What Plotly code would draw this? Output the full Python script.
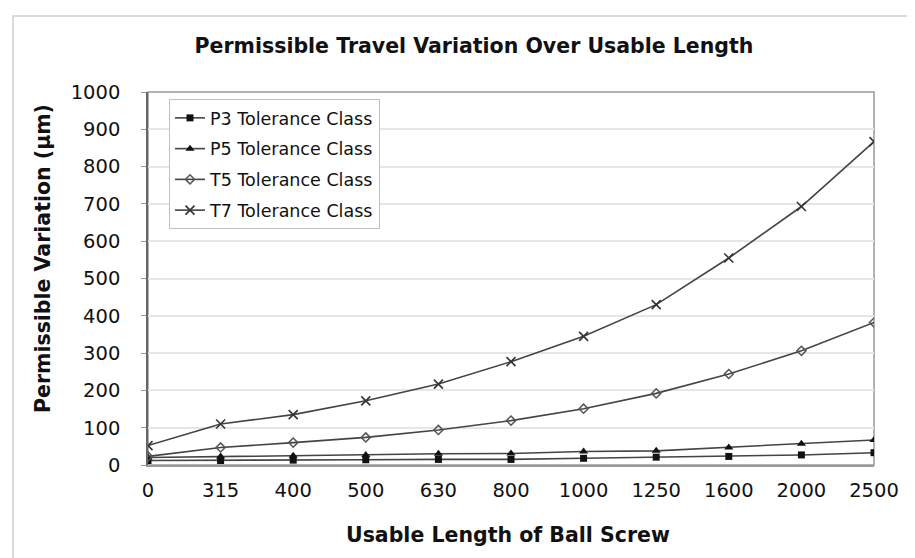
import plotly.graph_objects as go

lengths = ["0", "315", "400", "500", "630", "800", "1000", "1250", "1600", "2000", "2500"]
p3_values = [12, 12, 13, 14, 15, 15, 18, 21, 23, 27, 33]
p5_values = [20, 23, 25, 27, 30, 31, 36, 38, 47, 57, 67]
t5_values = [23, 47, 60, 74, 94, 119, 151, 192, 244, 306, 382]
t7_values = [52, 110, 135, 172, 217, 277, 345, 430, 555, 693, 867]
y_ticks = [0, 100, 200, 300, 400, 500, 600, 700, 800, 900, 1000]

series = [
    ("P3 Tolerance Class", p3_values, dict(symbol="square", size=7, color="#111111")),
    ("P5 Tolerance Class", p5_values, dict(symbol="triangle-up", size=8, color="#111111")),
    ("T5 Tolerance Class", t5_values, dict(symbol="diamond-open", size=7, color="#555555", line=dict(width=1.5, color="#555555"))),
    ("T7 Tolerance Class", t7_values, dict(symbol="x-thin-open", size=9, color="#333333", line=dict(width=1.6, color="#333333"))),
]

fig = go.Figure()
for i, (name, vals, marker) in enumerate(series):
    fig.add_trace(go.Scatter(
        x=lengths, y=vals, name=name, mode="lines+markers",
        line=dict(color="#444444", width=1.6),
        marker=marker, legendgroup=f"g{i}",
    ))

wide = "DejaVu Sans, Verdana, sans-serif"
W, H = 915, 558
L, R, T, B = 140, 49, 84, 101
pw, ph = W - L - R, H - T - B

fig.update_layout(
    width=W, height=H,
    margin=dict(l=L, r=R, t=T, b=B, pad=0),
    paper_bgcolor="white", plot_bgcolor="white",
    font=dict(family=wide, size=19, color="#111111"),
    title=dict(text="<b>Permissible Travel Variation Over Usable Length</b>",
               x=466 / W, xanchor="center", y=1 - 38 / H, yanchor="middle",
               font=dict(size=20.5, family=wide, color="#111111")),
    xaxis=dict(
        type="category", categoryorder="array", categoryarray=lengths,
        range=[0, len(lengths) - 1],
        showgrid=False, showline=True, linecolor="#999999", linewidth=1.5,
        ticks="", tickfont=dict(size=19.5, family=wide), zeroline=False,
        ticklabelstandoff=7,
    ),
    yaxis=dict(
        range=[0, 1000], tickvals=y_ticks, showgrid=True, gridcolor="#e6e6e6", gridwidth=1.5,
        showline=True, linecolor="#666666", linewidth=1.5,
        ticks="outside", ticklen=5, tickcolor="#999999",
        tickfont=dict(size=19.5, family=wide), zeroline=False,
        ticklabelstandoff=17,
    ),
    legend=dict(
        x=(161 - L) / pw, y=1 - (91 - T) / ph, xanchor="left", yanchor="top",
        bgcolor="white", bordercolor="#c0c0c0", borderwidth=1,
        font=dict(size=17.5, family=wide), tracegroupgap=5,
        itemwidth=30,
    ),
    showlegend=True,
)

# axis titles as annotations placed in pixel terms
fig.add_annotation(text="<b>Usable Length of Ball Screw</b>", xref="paper", yref="paper",
                   x=(500 - L) / pw, y=(H - B - 527) / ph, xanchor="center", yanchor="middle",
                   showarrow=False, font=dict(size=20.5, family=wide, color="#111111"))
fig.add_annotation(text="<b>Permissible Variation (µm)</b>", xref="paper", yref="paper",
                   x=(35 - L) / pw, y=(H - B - 251) / ph, xanchor="center", yanchor="middle",
                   textangle=-90, showarrow=False, font=dict(size=20.5, family=wide, color="#111111"))

fig.add_shape(type="rect", xref="paper", yref="paper", x0=0, x1=1, y0=0, y1=1,
              line=dict(color="#999999", width=1.5), layer="below")
fig.add_shape(type="rect", xref="paper", yref="paper",
              x0=(5 - L) / pw, x1=(912 - L) / pw,
              y0=(H - B - 556) / ph, y1=(H - B - 8) / ph,
              line=dict(color="#d0d0d0", width=1.5), layer="below")

fig.write_html("out.html")
